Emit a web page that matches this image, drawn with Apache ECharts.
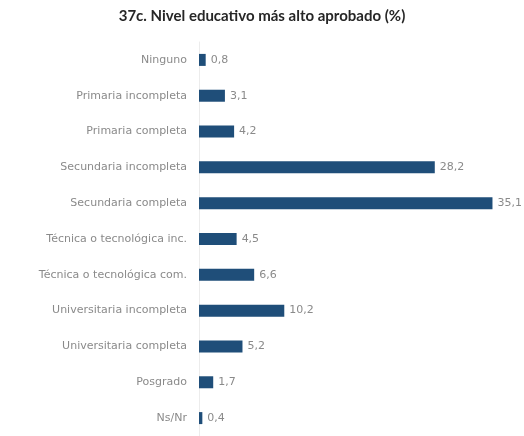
<!DOCTYPE html>
<html><head><meta charset="utf-8">
<script src="https://cdn.jsdelivr.net/npm/echarts@6/dist/echarts.min.js"></script>
<style>html,body{margin:0;padding:0;background:#fff}#c{width:524px;height:436px}</style>
</head><body><div id="c"></div>
<script>
const categories = ["Ninguno","Primaria incompleta","Primaria completa","Secundaria incompleta","Secundaria completa","Técnica o tecnológica inc.","Técnica o tecnológica com.","Universitaria incompleta","Universitaria completa","Posgrado","Ns/Nr"];
const values = [0.8,3.1,4.2,28.2,35.1,4.5,6.6,10.2,5.2,1.7,0.4];
const titleText = "37c. Nivel educativo más alto aprobado (%)";
const chart = echarts.init(document.getElementById('c'));
chart.setOption({
  backgroundColor:'#fff',
  animation:false,
  title:{text:titleText,left:'center',top:4,textStyle:{fontFamily:'Lato',fontWeight:'bold',fontSize:15,color:'#262626'}},
  grid:{left:199,top:42,width:301,height:396,containLabel:false},
  xAxis:{type:'value',min:0,max:36,show:false},
  yAxis:{type:'category',data:categories,inverse:true,
    axisLine:{show:true,lineStyle:{color:'#ececec',width:1}},
    axisTick:{show:false},
    axisLabel:{margin:12,color:'#8a8a8a',fontFamily:'DejaVu Sans',fontSize:11}},
  series:[{type:'bar',data:values,barWidth:12,itemStyle:{color:'#1f4e79'},
    label:{show:true,position:'right',distance:5,color:'#8a8a8a',fontFamily:'DejaVu Sans',fontSize:11,
      formatter:p=>String(p.value).replace('.',',')}}]
});
</script></body></html>
